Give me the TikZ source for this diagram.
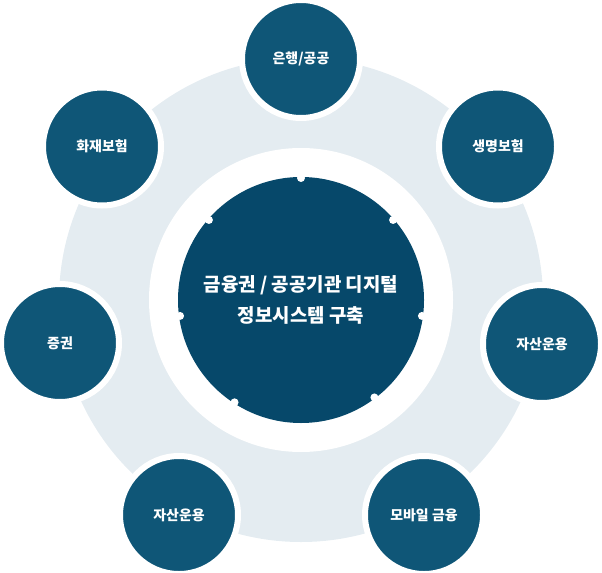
\documentclass[tikz,border=0pt]{standalone}
\usepackage{fontspec}
\newfontfamily\kr{Noto Sans CJK KR}
\definecolor{ringc}{HTML}{E4ECF1}
\definecolor{hubc}{HTML}{06486A}
\definecolor{satc}{HTML}{0F5677}
\begin{document}
\begin{tikzpicture}[x=1bp,y=-1bp,
  sat/.style={circle,fill=satc,draw=white,line width=6bp,minimum size=118bp,inner sep=0pt,
    text=white,font=\kr\bfseries\fontsize{14}{16}\selectfont},
  hub/.style={circle,fill=hubc,minimum size=246bp,inner sep=0pt,text=white,align=center,
    font=\kr\bfseries\fontsize{19}{31.7}\selectfont},
  notch/.style={fill=white}]
\useasboundingbox (0,0) rectangle (602,573);
\fill[ringc] (301,300) circle[radius=242];
\fill[white] (301,300) circle[radius=152];
\node[hub] (hub) at (301,300) {금융권 / 공공기관 디지털\\정보시스템 구축};
\foreach \a in {90,41,139,-7.5,187.5,-53,237}
  \fill[notch] (hub.center) ++(-\a:122) circle[radius=4];
\node[sat] (bank) at (301,59) {은행/공공};
\node[sat] (life) at (498,146.5) {생명보험};
\node[sat] (asset1) at (542,344) {자산운용};
\node[sat] (mobile) at (424,515) {모바일 금융};
\node[sat] (asset2) at (179,515) {자산운용};
\node[sat] (sec) at (60,343) {증권};
\node[sat] (fire) at (102,146.5) {화재보험};
\end{tikzpicture}
\end{document}
